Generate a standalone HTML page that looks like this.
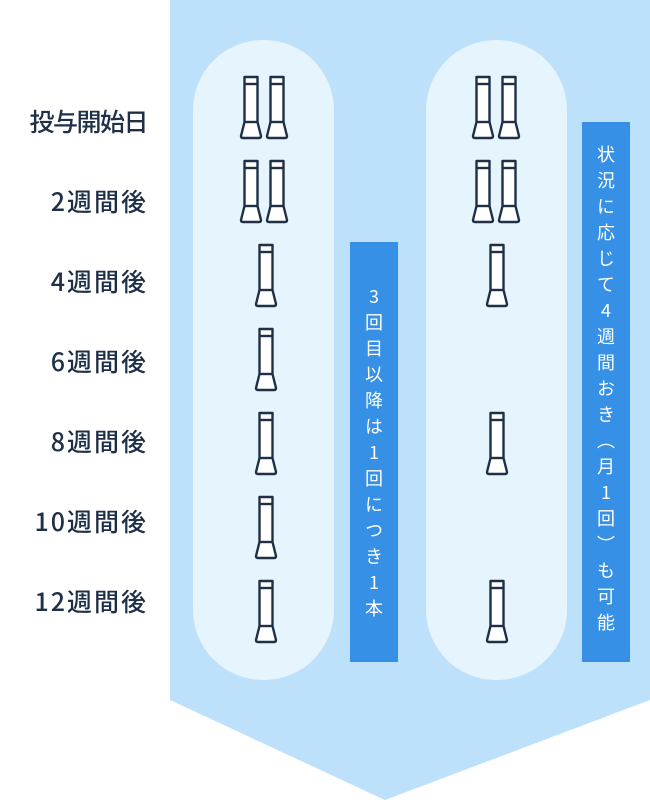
<!DOCTYPE html>
<html><head><meta charset="utf-8"><style>
html,body{margin:0;padding:0;background:#fff;}
body{width:650px;height:800px;position:relative;overflow:hidden;font-family:"Noto Sans CJK JP",sans-serif;}
.lbl{position:absolute;right:502px;font-size:25px;color:#1e3047;font-weight:500;line-height:1;white-space:nowrap;letter-spacing:2px;font-family:"Noto Sans CJK JP",sans-serif;}
.pill{position:absolute;top:40px;width:141px;height:640px;border-radius:70px;background:#e6f4fe;}
.box{position:absolute;width:48px;background:#3590e6;color:#fff;font-size:18px;writing-mode:vertical-rl;text-orientation:upright;display:flex;align-items:center;justify-content:center;letter-spacing:8px;font-family:"Noto Sans CJK JP",sans-serif;}
svg.bg{position:absolute;left:0;top:0;}
</style></head><body>
<svg class="bg" width="650" height="800">
<polygon points="170,0 650,0 650,700 385,800 170,700" fill="#bde0fb"/>
</svg>
<div class="pill" style="left:193px"></div>
<div class="pill" style="left:426px"></div>
<div class="box" style="left:350px;top:242px;height:420px;padding-top:8px;box-sizing:border-box">3回目以降は1回につき1本</div>
<div class="box" style="left:582px;top:122px;height:540px">状況に応じて4週間おき（月1回）も可能</div>
<svg class="bg" width="650" height="800">
<defs>
<g id="s" fill="#fff" stroke="#1e3047" stroke-width="2.4" stroke-linejoin="round">
<path d="M-6.5,0 h13 v45 l3.5,14 q0,2 -2,2 h-16 q-2,0 -2,-2 l3.5,-14 z"/>
<line x1="-6.5" y1="7" x2="6.5" y2="7"/>
<line x1="-6.5" y1="45" x2="6.5" y2="45"/>
</g>
</defs>
<use href="#s" x="251" y="77"/><use href="#s" x="277" y="77"/>
<use href="#s" x="251" y="161"/><use href="#s" x="277" y="161"/>
<use href="#s" x="266" y="245"/><use href="#s" x="266" y="329"/>
<use href="#s" x="266" y="413"/><use href="#s" x="266" y="497"/>
<use href="#s" x="266" y="581"/>
<use href="#s" x="483" y="77"/><use href="#s" x="509" y="77"/>
<use href="#s" x="483" y="161"/><use href="#s" x="509" y="161"/>
<use href="#s" x="497" y="245"/><use href="#s" x="497" y="413"/>
<use href="#s" x="497" y="581"/>
</svg>
<div class="lbl" style="top:109px;letter-spacing:-1.5px;right:503px">投与開始日</div>
<div class="lbl" style="top:189px">2週間後</div>
<div class="lbl" style="top:269px">4週間後</div>
<div class="lbl" style="top:349px">6週間後</div>
<div class="lbl" style="top:429px">8週間後</div>
<div class="lbl" style="top:509px">10週間後</div>
<div class="lbl" style="top:589px">12週間後</div>
</body></html>
